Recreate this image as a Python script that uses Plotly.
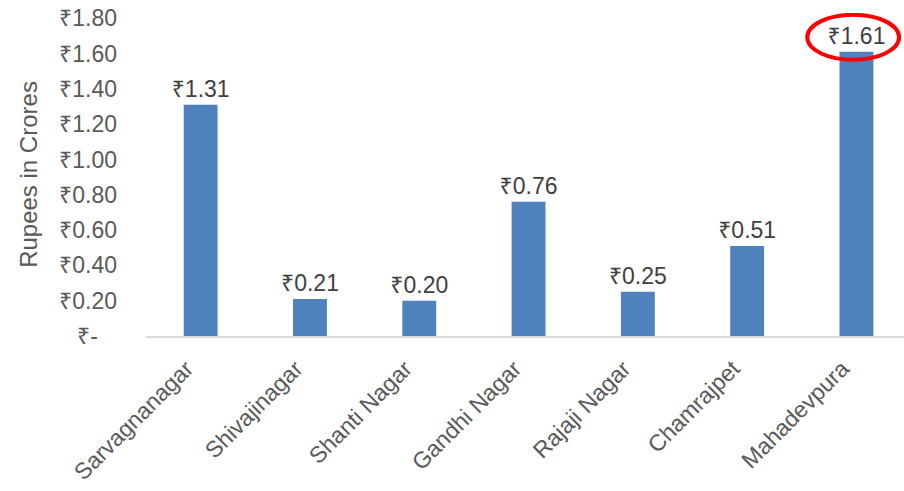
import plotly.graph_objects as go

categories = ["Sarvagnanagar", "Shivajinagar", "Shanti Nagar", "Gandhi Nagar",
              "Rajaji Nagar", "Chamrajpet", "Mahadevpura"]
values = [1.31, 0.21, 0.20, 0.76, 0.25, 0.51, 1.61]
tick_vals = [0, 0.2, 0.4, 0.6, 0.8, 1.0, 1.2, 1.4, 1.6, 1.8]
tick_text = ["₹-   ", "₹0.20", "₹0.40", "₹0.60", "₹0.80", "₹1.00",
             "₹1.20", "₹1.40", "₹1.60", "₹1.80"]
highlight_index = 6

FONT = "Liberation Sans, Arial, Noto Sans, DejaVu Sans, sans-serif"

fig = go.Figure(go.Bar(
    x=categories, y=values,
    marker=dict(color="#4F81BD", line=dict(width=0)),
    width=0.31,
    text=[f"₹{v:.2f}" for v in values],
    textposition="outside",
    constraintext="none",
    textfont=dict(size=23, color="#404040", family=FONT),
    cliponaxis=False,
))

hv = values[highlight_index]
fig.add_shape(type="circle", xref="x", yref="y",
              x0=highlight_index - 0.45, x1=highlight_index + 0.39,
              y0=hv - 0.045, y1=hv + 0.21,
              line=dict(color="#FF0000", width=4))

fig.update_layout(
    width=904, height=491,
    margin=dict(l=146, r=0, t=13, b=155),
    paper_bgcolor="white", plot_bgcolor="white",
    showlegend=False,
    font=dict(family=FONT, color="#595959"),
    xaxis=dict(
        range=[-0.5, 6.435],
        tickangle=-45,
        tickfont=dict(size=23, color="#595959"),
        showline=True, linecolor="#D9D9D9", linewidth=2,
        showgrid=False, ticks="",
        ticklabelstandoff=8,
        ticklabelshift=-14,
        ticklabeloverflow="allow",
        automargin=False,
    ),
    yaxis=dict(
        range=[0, 1.83],
        tickvals=tick_vals, ticktext=tick_text,
        tickfont=dict(size=23, color="#595959"),
        showgrid=False, zeroline=False, showline=False, ticks="",
        ticklabelstandoff=28,
        ticklabeloverflow="allow",
        automargin=False,
        title=dict(text="Rupees in Crores", font=dict(size=24, color="#595959"), standoff=14),
    ),
)

# remove the browser's default page margin so the figure fills the window exactly
fig.write_html("out.html", config={"displayModeBar": False},
               post_script="document.body.style.margin='0';")
